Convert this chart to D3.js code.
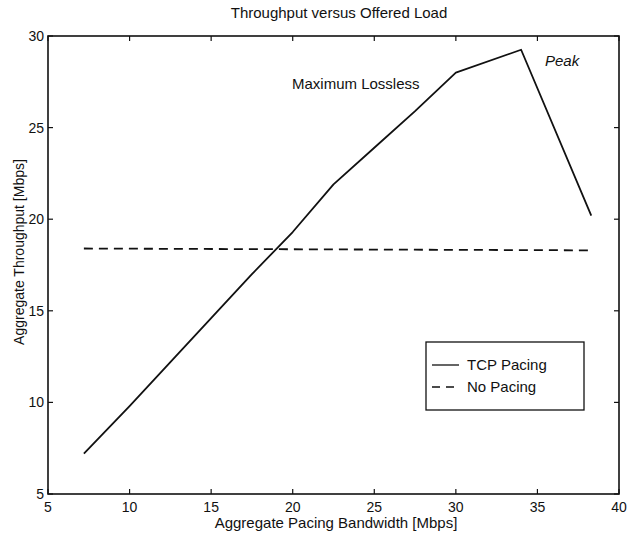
<!DOCTYPE html>
<html><head><meta charset="utf-8">
<script src="https://cdn.jsdelivr.net/npm/d3@7"></script>
<style>
body{margin:0;background:#fff;}
text{font-family:"Liberation Sans",Arial,sans-serif;fill:#111;}
</style></head>
<body><svg id="c" width="630" height="534"></svg>
<script>
const pacingX = [7.2, 10, 12.5, 15, 17.5, 20, 22.5, 25, 27.5, 30, 34.0, 38.3];
const pacingY = [7.2, 9.8, 12.2, 14.6, 17.0, 19.3, 21.9, 23.9, 25.9, 28.0, 29.25, 20.2];
const noPacingX = [7.2, 38.3];
const noPacingY = [18.4, 18.3];
const xTicks = [5, 10, 15, 20, 25, 30, 35, 40];
const yTicks = [5, 10, 15, 20, 25, 30];

const svg = d3.select("#c");
const L = 48, R = 619, T = 36, B = 494;
const x = d3.scaleLinear().domain([5, 40]).range([L, R]);
const y = d3.scaleLinear().domain([5, 30]).range([B, T]);

// frame
svg.append("rect").attr("x", L).attr("y", T).attr("width", R - L).attr("height", B - T)
  .attr("fill", "none").attr("stroke", "#111").attr("stroke-width", 1.6);

const tk = 5;
const g = svg.append("g").attr("stroke", "#111").attr("stroke-width", 1.2);
xTicks.forEach(v => {
  g.append("line").attr("x1", x(v)).attr("x2", x(v)).attr("y1", B).attr("y2", B - tk);
  g.append("line").attr("x1", x(v)).attr("x2", x(v)).attr("y1", T).attr("y2", T + tk);
});
yTicks.forEach(v => {
  g.append("line").attr("x1", L).attr("x2", L + tk).attr("y1", y(v)).attr("y2", y(v));
  g.append("line").attr("x1", R).attr("x2", R - tk).attr("y1", y(v)).attr("y2", y(v));
});

svg.append("g").selectAll("text").data(xTicks).join("text")
  .attr("x", d => x(d)).attr("y", 512).attr("text-anchor", "middle")
  .attr("font-size", 14).text(d => d);
svg.append("g").selectAll("text").data(yTicks).join("text")
  .attr("x", L - 4).attr("y", d => y(d) + 5).attr("text-anchor", "end")
  .attr("font-size", 14).text(d => d);

svg.append("text").attr("x", 339).attr("y", 18).attr("text-anchor", "middle")
  .attr("font-size", 15).text("Throughput versus Offered Load");
svg.append("text").attr("x", 336).attr("y", 528).attr("text-anchor", "middle")
  .attr("font-size", 15).text("Aggregate Pacing Bandwidth [Mbps]");
svg.append("text").attr("transform", "translate(24,252) rotate(-90)").attr("text-anchor", "middle")
  .attr("font-size", 14).text("Aggregate Throughput [Mbps]");

const line = d3.line().x(d => x(d[0])).y(d => y(d[1]));
svg.append("path").datum(pacingX.map((v, i) => [v, pacingY[i]]))
  .attr("d", line).attr("fill", "none").attr("stroke", "#111").attr("stroke-width", 1.8)
  .attr("stroke-linejoin", "round");
svg.append("path").datum(noPacingX.map((v, i) => [v, noPacingY[i]]))
  .attr("d", line).attr("fill", "none").attr("stroke", "#111").attr("stroke-width", 1.8)
  .attr("stroke-dasharray", "9,6");

svg.append("text").attr("x", 292).attr("y", 89).attr("font-size", 15).text("Maximum Lossless");
svg.append("text").attr("x", 545).attr("y", 66).attr("font-size", 15).attr("font-style", "italic").text("Peak");

// legend
const lg = svg.append("g");
lg.append("rect").attr("x", 426).attr("y", 342).attr("width", 158).attr("height", 68)
  .attr("fill", "#fff").attr("stroke", "#111").attr("stroke-width", 1.3);
lg.append("line").attr("x1", 432).attr("x2", 459).attr("y1", 365).attr("y2", 365)
  .attr("stroke", "#111").attr("stroke-width", 1.3);
lg.append("line").attr("x1", 432).attr("x2", 459).attr("y1", 387).attr("y2", 387)
  .attr("stroke", "#111").attr("stroke-width", 1.6).attr("stroke-dasharray", "8,6");
lg.append("text").attr("x", 467).attr("y", 370).attr("font-size", 15).text("TCP Pacing");
lg.append("text").attr("x", 467).attr("y", 392).attr("font-size", 15).text("No Pacing");
</script></body></html>
